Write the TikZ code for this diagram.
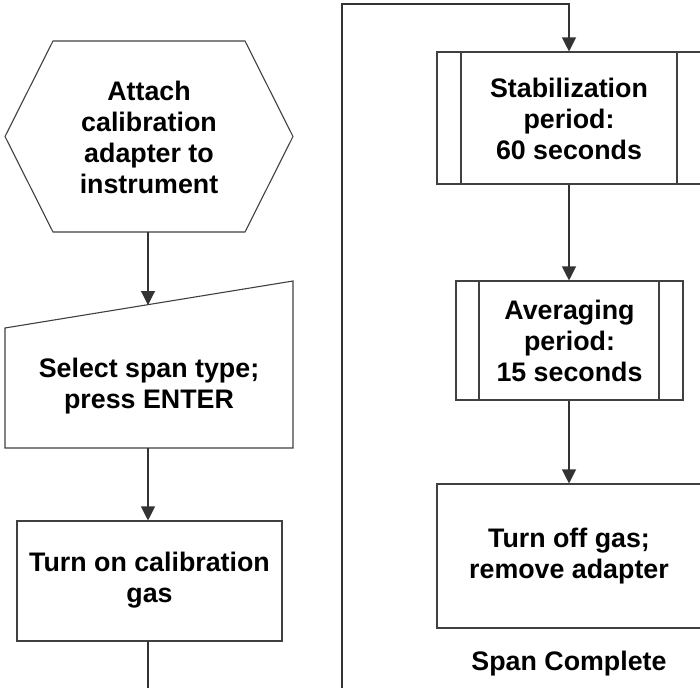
\documentclass[tikz,border=0pt]{standalone}
\usepackage{fontspec}
\setmainfont{Liberation Sans}
\usetikzlibrary{arrows.meta}
\tikzset{
  shapeline/.style={draw=black!75, line width=1.1pt},
  conn/.style={draw=black!80, line width=1.1pt},
  arr/.style={conn, -{Triangle[width=14pt,length=14pt]}},
  lbl/.style={align=center, font=\fontsize{26.8}{31}\selectfont\bfseries, inner sep=0pt},
}
\begin{document}
\begin{tikzpicture}[x=1pt,y=-1pt]
\useasboundingbox (0,0) rectangle (700,688);
% left column
\draw[shapeline] (53,41) -- (245,41) -- (293,136.5) -- (245,232) -- (53,232) -- (5,136.5) -- cycle;
\node[lbl] (attach) at (149,137) {Attach\\calibration\\adapter to\\instrument};
\coordinate (hexbot) at (148,232);
\draw[shapeline] (5,328) -- (293,281) -- (293,448) -- (5,448) -- cycle;
\node[lbl] (select) at (149,386) {Select span type;\\press ENTER};
\coordinate (mitop) at (148,305);
\coordinate (mibot) at (148,448);
\node[shapeline, minimum width=265pt, minimum height=120pt, inner sep=0pt] (gas) at (149.5,581) {};
\node[lbl] (gastext) at (149.5,580) {Turn on calibration\\gas};
\coordinate (gasbot) at (148,641);
\coordinate (leftend) at (148,688);
\draw[arr] (hexbot) -- (mitop);
\draw[arr] (mibot) -- (gas.north -| mibot);
\draw[conn] (gasbot) -- (leftend);
% right column
\coordinate (rightstart) at (342,688);
\coordinate (corner1) at (342,4);
\coordinate (corner2) at (569,4);
\node[shapeline, minimum width=264pt, minimum height=132pt, inner sep=0pt] (stab) at (569,118) {};
\draw[shapeline] (461,52) -- (461,184) (677,52) -- (677,184);
\node[lbl] (stabtext) at (569,119) {Stabilization\\period:\\60 seconds};
\node[shapeline, minimum width=227pt, minimum height=119pt, inner sep=0pt] (avg) at (569.5,340.5) {};
\draw[shapeline] (479,281) -- (479,400) (659,281) -- (659,400);
\node[lbl] (avgtext) at (569.5,341) {Averaging\\period:\\15 seconds};
\node[shapeline, minimum width=264pt, minimum height=144pt, inner sep=0pt] (off) at (569,556) {};
\node[lbl] (offtext) at (569,556) {Turn off gas;\\remove adapter};
\node[lbl] (done) at (569,664) {Span Complete};
\draw[arr] (rightstart) -- (corner1) -- (corner2) -- (stab.north);
\draw[arr] (stab.south) -- (avg.north -| stab.south);
\draw[arr] (avg.south -| off.north) -- (off.north);
\end{tikzpicture}
\end{document}
